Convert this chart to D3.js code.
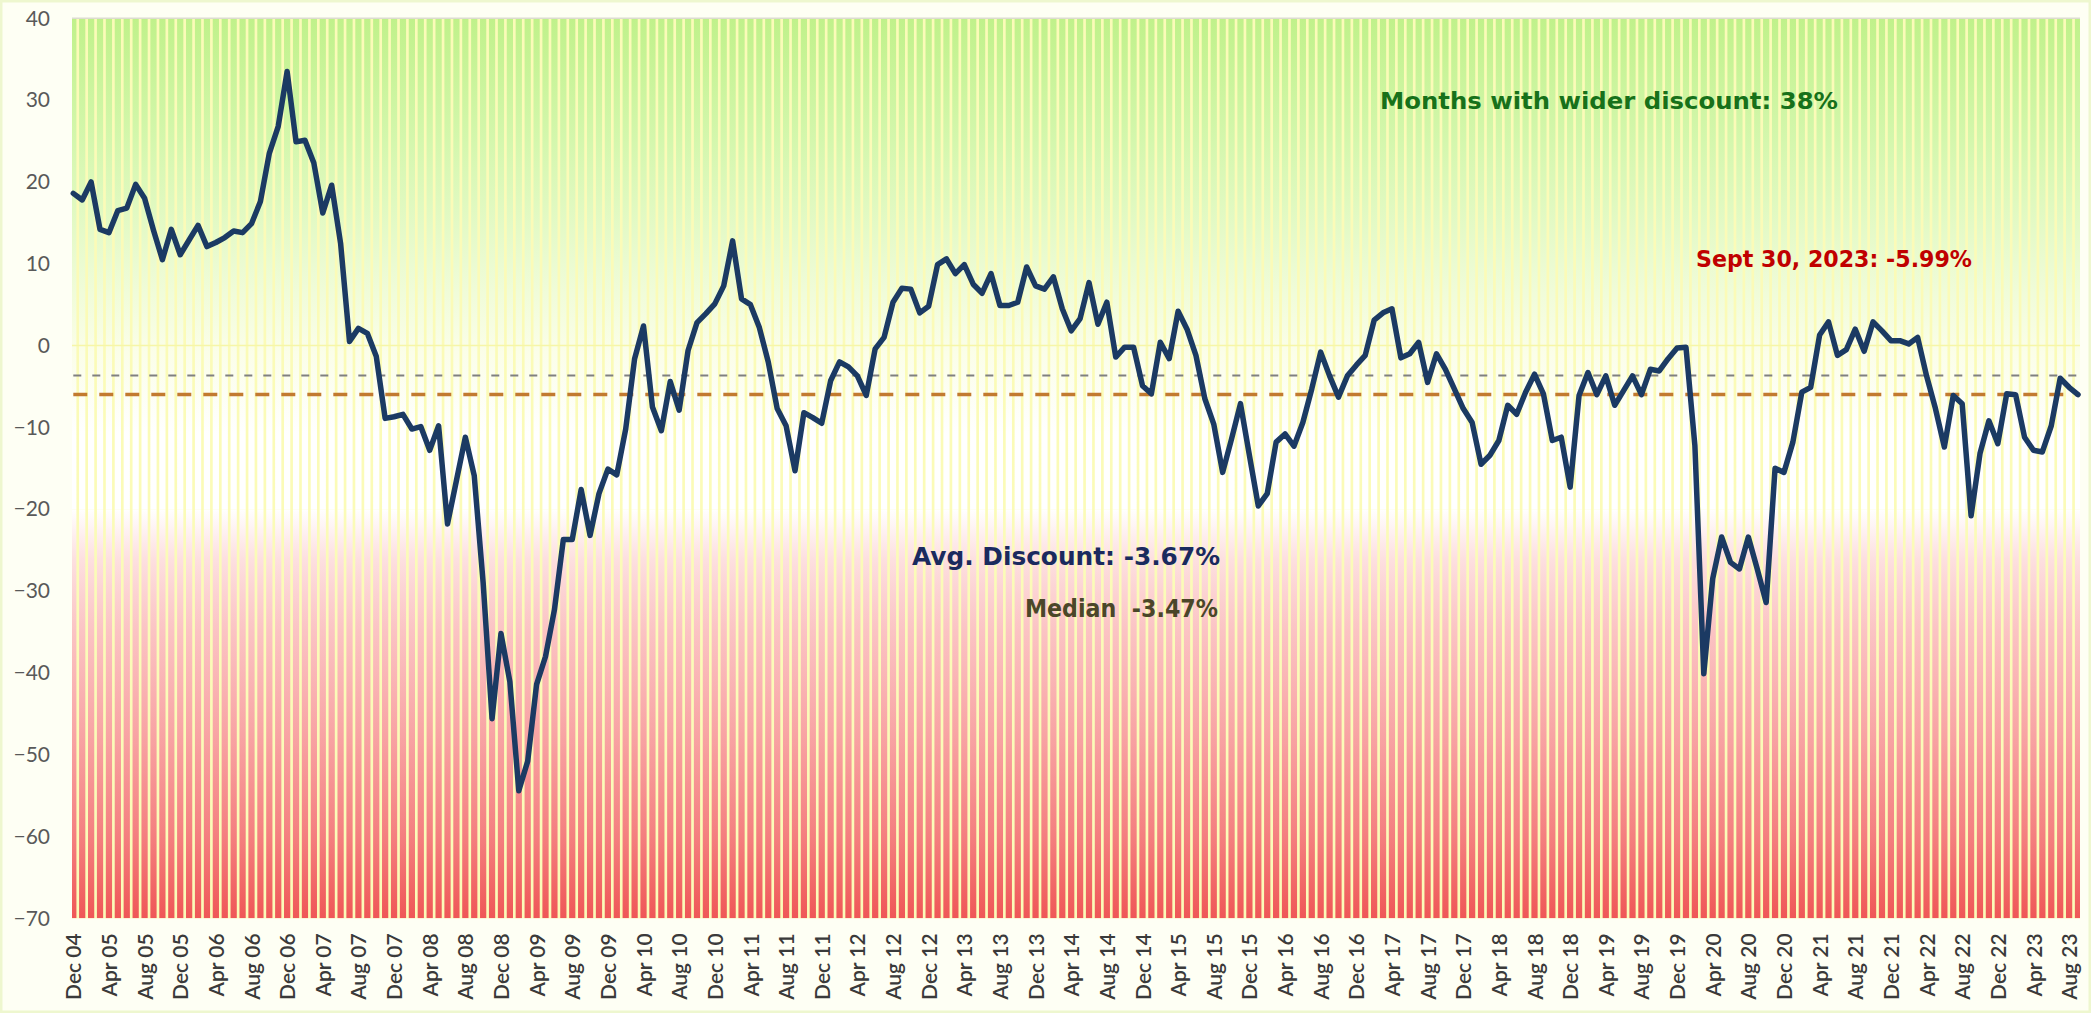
<!DOCTYPE html>
<html>
<head>
<meta charset="utf-8">
<script src="https://cdn.jsdelivr.net/npm/d3@7"></script>
<style>
  html, body { margin: 0; padding: 0; background: #fefff4; }
  svg { display: block; }
</style>
</head>
<body>
<svg id="chart" width="2091" height="1013"></svg>
<script>
// ---------- DATA ----------
const startMonth = new Date(2004, 11, 1);   // Dec 04
const endMonth   = new Date(2023, 9, 1);    // exclusive (Oct 23)

const discountValues = [
  18.6, 17.8, 20.0, 14.2, 13.8, 16.5, 16.8, 19.7, 18.0, 14.1, 10.5, 14.2,
  11.1, 12.9, 14.7, 12.1, 12.6, 13.2, 14.0, 13.8, 14.9, 17.6, 23.5, 26.8,
  33.5, 24.9, 25.1, 22.3, 16.2, 19.6, 12.5, 0.5, 2.1, 1.5, -1.3, -8.9,
  -8.7, -8.4, -10.2, -9.9, -12.8, -9.8, -21.8, -16.5, -11.2, -15.9, -29.0, -45.6,
  -35.2, -41.1, -54.4, -50.8, -41.4, -38.0, -32.3, -23.7, -23.7, -17.6, -23.2, -18.1,
  -15.1, -15.8, -10.2, -1.6, 2.4, -7.5, -10.4, -4.4, -7.9, -0.6, 2.8, 3.9,
  5.1, 7.3, 12.8, 5.7, 5.0, 2.2, -2.0, -7.7, -9.8, -15.3, -8.2, -8.8,
  -9.5, -4.3, -2.0, -2.6, -3.7, -6.1, -0.4, 1.0, 5.3, 7.0, 6.9, 4.0,
  4.8, 9.9, 10.6, 8.8, 9.9, 7.5, 6.4, 8.8, 4.9, 4.9, 5.3, 9.6,
  7.3, 6.9, 8.4, 4.5, 1.8, 3.3, 7.7, 2.6, 5.3, -1.4, -0.2, -0.2,
  -4.9, -5.9, 0.4, -1.6, 4.2, 2.0, -1.2, -6.5, -9.6, -15.5, -11.4, -7.1,
  -13.4, -19.6, -18.1, -11.8, -10.8, -12.3, -9.4, -5.3, -0.8, -3.7, -6.3, -3.7,
  -2.4, -1.2, 3.1, 4.0, 4.5, -1.5, -1.0, 0.4, -4.5, -1.0, -2.9, -5.3,
  -7.7, -9.4, -14.5, -13.4, -11.6, -7.3, -8.4, -5.7, -3.5, -5.9, -11.6, -11.2,
  -17.3, -6.1, -3.3, -6.0, -3.7, -7.3, -5.5, -3.7, -6.0, -2.9, -3.1, -1.6,
  -0.3, -0.2, -12.2, -40.1, -28.5, -23.4, -26.5, -27.3, -23.4, -27.3, -31.4, -15.0,
  -15.5, -11.8, -5.7, -5.1, 1.3, 2.9, -1.2, -0.5, 2.0, -0.7, 2.9, 1.8,
  0.6, 0.6, 0.2, 1.0, -3.7, -7.7, -12.4, -6.1, -7.1, -20.8, -13.2, -9.2,
  -12.0, -5.9, -6.0, -11.2, -12.8, -13.0, -9.8, -4.0, -5.1, -5.99
];

const tickLabels = [
  "Dec 04","Apr 05","Aug 05","Dec 05","Apr 06","Aug 06","Dec 06","Apr 07","Aug 07","Dec 07",
  "Apr 08","Aug 08","Dec 08","Apr 09","Aug 09","Dec 09","Apr 10","Aug 10","Dec 10","Apr 11",
  "Aug 11","Dec 11","Apr 12","Aug 12","Dec 12","Apr 13","Aug 13","Dec 13","Apr 14","Aug 14",
  "Dec 14","Apr 15","Aug 15","Dec 15","Apr 16","Aug 16","Dec 16","Apr 17","Aug 17","Dec 17",
  "Apr 18","Aug 18","Dec 18","Apr 19","Aug 19","Dec 19","Apr 20","Aug 20","Dec 20","Apr 21",
  "Aug 21","Dec 21","Apr 22","Aug 22","Dec 22","Apr 23","Aug 23"
];

const yTicks = [40, 30, 20, 10, 0, -10, -20, -30, -40, -50, -60, -70];

const averageDiscount = -3.67;
const medianDiscount = -3.47;
const latestDiscount = -5.99;
const widerShare = 38;

const bandTop = 40, bandSplit = -20, bandBottom = -70;

const fmt = d3.timeFormat("%b %y");
const categories = d3.timeMonth.range(startMonth, endMonth).map(fmt);

// ---------- LAYOUT ----------
const plot = { left: 72, right: 2080, top: 18.3, bottom: 918.3 };
const svg = d3.select("#chart");

const x = d3.scalePoint().domain(categories).range([73.3, 2078]).padding(0);
const y = d3.scaleLinear().domain([bandBottom, bandTop]).range([plot.bottom, plot.top]);

// page border tint
svg.append("rect").attr("x", 1).attr("y", 1).attr("width", 2089).attr("height", 1011)
  .attr("fill", "#fefff4").attr("stroke", "#eef7cf").attr("stroke-width", 3);

const defs = svg.append("defs");
const gGreen = defs.append("linearGradient").attr("id", "gGreen")
  .attr("x1", 0).attr("y1", 0).attr("x2", 0).attr("y2", 1);
[["0%", "#c0f18a"], ["25%", "#d4f7ad"], ["50%", "#ebfbd1"], ["68%", "#fbfee8"], ["85%", "#ffffff"], ["100%", "#ffffff"]]
  .forEach(([o, c]) => gGreen.append("stop").attr("offset", o).attr("stop-color", c));
const gRed = defs.append("linearGradient").attr("id", "gRed")
  .attr("x1", 0).attr("y1", 0).attr("x2", 0).attr("y2", 1);
[["0%", "#ffffff"], ["12%", "#fde0e0"], ["30%", "#fbc3c3"], ["55%", "#f8a4a4"], ["80%", "#f47f7f"], ["100%", "#ef5757"]]
  .forEach(([o, c]) => gRed.append("stop").attr("offset", o).attr("stop-color", c));

defs.append("clipPath").attr("id", "plotClip").append("rect")
  .attr("x", plot.left).attr("y", plot.top)
  .attr("width", plot.right - plot.left).attr("height", plot.bottom - plot.top);

// plot background (gap colour)
svg.append("rect").attr("x", plot.left).attr("y", plot.top)
  .attr("width", plot.right - plot.left).attr("height", plot.bottom - plot.top)
  .attr("fill", "#fbfbb8");

const bw = x.step() * 0.7;
const bars = svg.append("g").attr("clip-path", "url(#plotClip)");
bars.selectAll("rect.up").data(categories).join("rect").attr("class", "up")
  .attr("x", d => x(d) - bw / 2).attr("width", bw)
  .attr("y", y(bandTop)).attr("height", y(bandSplit) - y(bandTop))
  .attr("fill", "url(#gGreen)");
bars.selectAll("rect.dn").data(categories).join("rect").attr("class", "dn")
  .attr("x", d => x(d) - bw / 2).attr("width", bw)
  .attr("y", y(bandSplit)).attr("height", y(bandBottom) - y(bandSplit))
  .attr("fill", "url(#gRed)");

// top border & zero line
svg.append("line").attr("x1", plot.left).attr("x2", plot.right)
  .attr("y1", plot.top).attr("y2", plot.top).attr("stroke", "#dcdcd0").attr("stroke-width", 1.5);
svg.append("line").attr("x1", plot.left).attr("x2", plot.right)
  .attr("y1", y(0)).attr("y2", y(0)).attr("stroke", "#f6f6a8").attr("stroke-width", 1.5);

// reference lines
svg.append("line").attr("x1", x(categories[0])).attr("x2", plot.right)
  .attr("y1", y(averageDiscount)).attr("y2", y(averageDiscount))
  .attr("stroke", "#808080").attr("stroke-width", 2).attr("stroke-dasharray", "8,11");
svg.append("line").attr("x1", x(categories[0])).attr("x2", plot.right)
  .attr("y1", y(latestDiscount)).attr("y2", y(latestDiscount))
  .attr("stroke", "#c27a30").attr("stroke-width", 3.5).attr("stroke-dasharray", "14,12");

// main line
const line = d3.line().x((d, i) => x(categories[i])).y(d => y(d));
svg.append("path").datum(discountValues)
  .attr("d", line).attr("fill", "none")
  .attr("stroke", "#1b3a63").attr("stroke-width", 5.5)
  .attr("stroke-linejoin", "round").attr("stroke-linecap", "round");

// axes
const yAxis = svg.append("g").attr("transform", `translate(${plot.left},0)`)
  .call(d3.axisLeft(y).tickValues(yTicks).tickSize(0).tickPadding(22).tickFormat(d3.format("d")));
yAxis.select(".domain").remove();
yAxis.selectAll("text").attr("font-family", "Lato, 'Open Sans', sans-serif")
  .attr("font-size", 21).attr("fill", "#595959");

const xAxis = svg.append("g").attr("transform", `translate(0,${plot.bottom})`)
  .call(d3.axisBottom(x).tickValues(tickLabels).tickSize(0));
xAxis.select(".domain").remove();
xAxis.selectAll("text")
  .attr("font-family", "Lato, 'Open Sans', sans-serif").attr("font-size", 21)
  .attr("font-weight", 600).attr("fill", "#3a3a3a")
  .attr("transform", "rotate(-90)")
  .attr("text-anchor", "end")
  .attr("x", -15).attr("y", 0).attr("dy", "0.36em");

// annotations
const ann = svg.append("g").attr("font-family", "'DejaVu Sans', sans-serif").attr("font-weight", "bold");
ann.append("text").attr("x", 1380).attr("y", 109)
  .attr("font-size", 23).attr("fill", "#17711a")
  .attr("textLength", 458).attr("lengthAdjust", "spacingAndGlyphs")
  .text(`Months with wider discount: ${widerShare}%`);
ann.append("text").attr("x", 1696).attr("y", 267)
  .attr("font-size", 23).attr("fill", "#c00000")
  .attr("textLength", 276).attr("lengthAdjust", "spacingAndGlyphs")
  .text(`Sept 30, 2023: ${latestDiscount.toFixed(2)}%`);
ann.append("text").attr("x", 912).attr("y", 565)
  .attr("font-size", 24).attr("fill", "#1a2a5e")
  .attr("textLength", 308).attr("lengthAdjust", "spacingAndGlyphs")
  .text(`Avg. Discount: ${averageDiscount.toFixed(2)}%`);
ann.append("text").attr("x", 1025).attr("y", 617)
  .attr("font-size", 24).attr("fill", "#4b4629")
  .attr("textLength", 193).attr("lengthAdjust", "spacingAndGlyphs")
  .text(`Median\u00A0\u00A0${medianDiscount.toFixed(2)}%`);
</script>
</body>
</html>
